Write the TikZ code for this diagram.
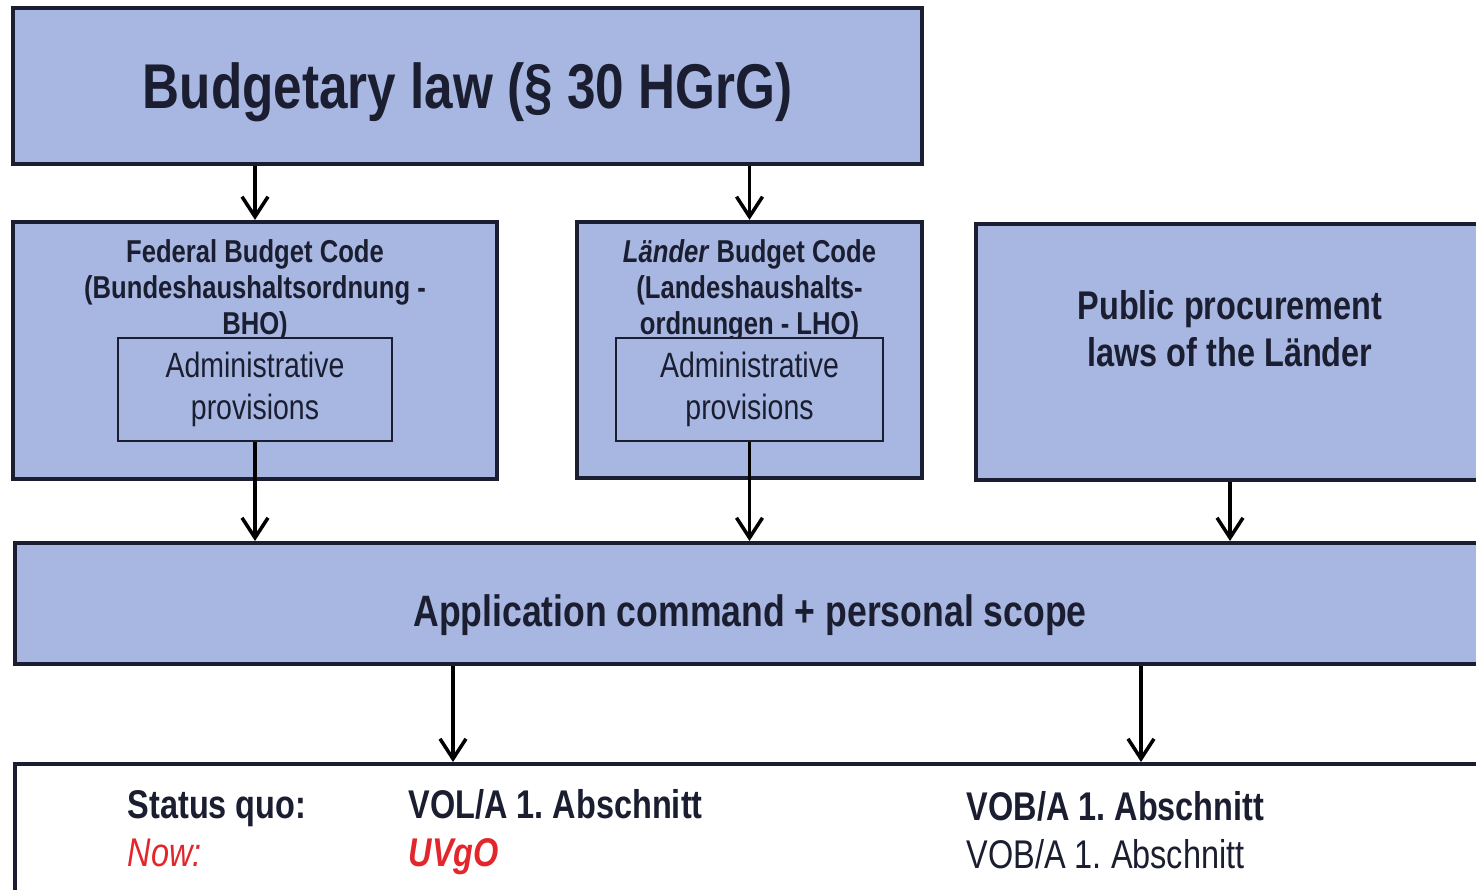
\documentclass[tikz,border=0pt]{standalone}
\usepackage{fontspec}
\setmainfont{Liberation Sans}[FakeStretch=0.81]
\usepackage{xcolor}
\usepackage{tikz}
\usetikzlibrary{positioning,arrows.meta}
\definecolor{caixa}{HTML}{A7B7E1}
\definecolor{borda}{HTML}{1B1E30}
\definecolor{vermelho}{HTML}{E3262B}
\frenchspacing

\begin{document}
\begin{tikzpicture}[x=1cm,y=-1cm,
    caixa/.style={draw=borda, fill=caixa, line width=1.2pt, rectangle, inner sep=0pt},
    interna/.style={draw=borda, fill=caixa, line width=0.8pt, rectangle, inner sep=0pt,
        align=center, text=borda, font=\fontsize{10}{11.7}\selectfont},
    texto/.style={align=center, inner sep=0pt, text=borda},
    rotulo/.style={anchor=base west, inner sep=0pt, text=borda, font=\fontsize{11.4}{13.7}\selectfont},
    seta/.style={-{Straight Barb[length=2mm,width=2.6mm]}, line width=1pt}]
            % Area da figura
            \clip (0,0) rectangle (14.76,8.89);

            % Lei orcamentaria
            \node[caixa, minimum width=9.09cm, minimum height=1.56cm] (hgrg) at (4.675,0.86) {};
            \node[texto, font=\fontsize{18}{21}\selectfont\bfseries] (hgrgtexto) at (4.675,0.92) {Budgetary law (§ 30 HGrG)};

            % Codigo federal
            \node[caixa, minimum width=4.84cm, minimum height=2.57cm] (bho) at (2.55,3.505) {};
            \node[texto, font=\fontsize{9}{10.2}\selectfont\bfseries, below=0.19cm of bho.north] (bhotitulo)
                {Federal Budget Code\\(Bundeshaushaltsordnung -\\BHO)};
            \node[interna, minimum width=2.74cm, minimum height=1.03cm, text depth=0.4ex] (bhoadm) at (2.55,3.895) {Administrative\\provisions};

            % Codigo dos Laender
            \node[caixa, minimum width=3.45cm, minimum height=2.56cm] (lho) at (7.495,3.5) {};
            \node[texto, font=\fontsize{9}{10.2}\selectfont\bfseries, below=0.19cm of lho.north] (lhotitulo)
                {\textit{Länder} Budget Code\\(Landeshaushalts-\\ordnungen - LHO)};
            \node[interna, minimum width=2.67cm, minimum height=1.03cm, text depth=0.4ex] (lhoadm) at (7.495,3.895) {Administrative\\provisions};

            % Leis de compras publicas
            \node[caixa, minimum width=5.5cm, minimum height=2.56cm, anchor=north west] (laender) at (9.74,2.22) {};
            \node[texto, font=\fontsize{11.4}{13.4}\selectfont\bfseries] (laendertexto) at (12.3,3.285)
                {Public procurement\\laws of the Länder};

            % Comando de aplicacao
            \node[caixa, minimum width=15.2cm, minimum height=1.21cm, anchor=north west] (app) at (0.13,5.41) {};
            \node[texto, font=\fontsize{12.5}{15}\selectfont\bfseries] (apptexto) at (7.5,6.15)
                {Application command + personal scope};

            % Regras de adjudicacao
            \node[draw=borda, fill=white, line width=1.2pt, inner sep=0pt, minimum width=15.2cm,
                minimum height=1.6cm, anchor=north west] (regras) at (0.13,7.62) {};
            \node[rotulo] (status) at (1.27,8.18) {\bfseries Status quo:};
            \node[rotulo, text=vermelho] (agora) at (1.27,8.66) {\itshape Now:};
            \node[rotulo] (vol) at (4.08,8.18) {\bfseries VOL/A 1. Abschnitt};
            \node[rotulo, text=vermelho] (uvgo) at (4.08,8.66) {\bfseries\itshape UVgO};
            \node[rotulo] (vob) at (9.66,8.20) {\bfseries VOB/A 1. Abschnitt};
            \node[rotulo] (vobagora) at (9.66,8.68) {VOB/A 1. Abschnitt};

            % Setas
            \coordinate (volx) at (4.53,6.62);
            \coordinate (vobx) at (11.41,6.62);
            \draw[seta] (hgrg.south -| bho.north) -- (bho.north);
            \draw[seta] (hgrg.south -| lho.north) -- (lho.north);
            \draw[seta] (bhoadm.south) -- (bhoadm.south |- app.north);
            \draw[seta] (lhoadm.south) -- (lhoadm.south |- app.north);
            \draw[seta] (laendertexto |- laender.south) -- (laendertexto |- app.north);
            \draw[seta] (app.south -| volx) -- (regras.north -| volx);
            \draw[seta] (app.south -| vobx) -- (regras.north -| vobx);
        \end{tikzpicture}
\end{document}
